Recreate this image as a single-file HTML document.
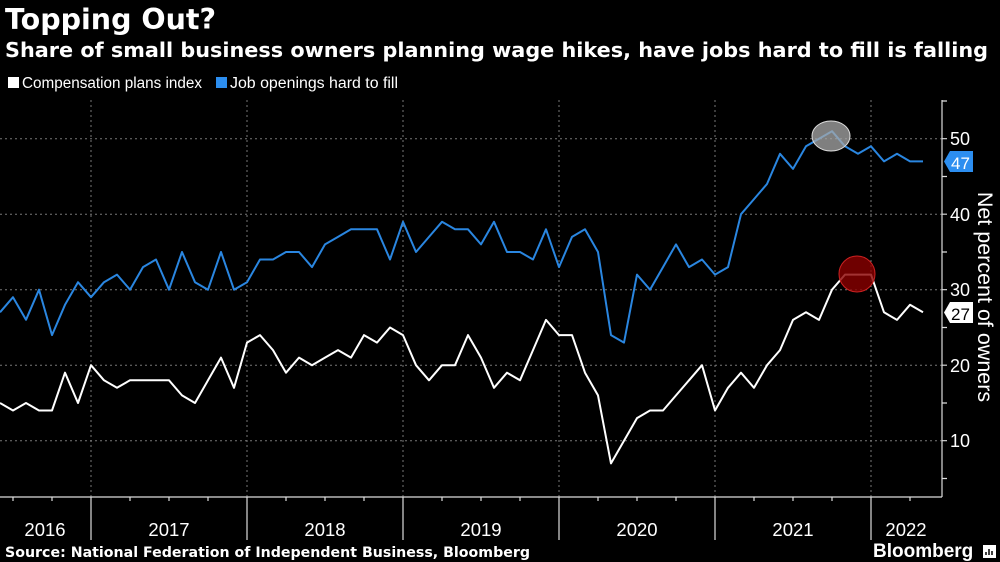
<!DOCTYPE html>
<html><head><meta charset="utf-8"><style>
html,body{margin:0;padding:0;background:#000;}
svg{display:block;font-family:"Liberation Sans","DejaVu Sans",sans-serif;}
</style></head><body>
<svg width="1000" height="562" viewBox="0 0 1000 562" xmlns="http://www.w3.org/2000/svg">
<rect width="1000" height="562" fill="#000"/>
<text x="5" y="29" fill="#fff" font-size="28.5" font-weight="bold" font-family="DejaVu Sans, sans-serif">Topping Out?</text>
<text x="5" y="57" fill="#fff" font-size="20" font-weight="bold" font-family="DejaVu Sans, sans-serif" textLength="983" lengthAdjust="spacingAndGlyphs">Share of small business owners planning wage hikes, have jobs hard to fill is falling</text>
<rect x="8" y="77" width="11" height="11" fill="#fff"/>
<text x="22" y="88" fill="#fff" font-size="15.5" textLength="180" lengthAdjust="spacingAndGlyphs">Compensation plans index</text>
<rect x="216" y="77" width="11" height="11" fill="#2c8ef0"/>
<text x="230" y="88" fill="#fff" font-size="15.5" textLength="168" lengthAdjust="spacingAndGlyphs">Job openings hard to fill</text>
<g stroke="#777" stroke-width="1" stroke-dasharray="2,3">
<line x1="0" y1="138.7" x2="942" y2="138.7"/><line x1="0" y1="214.2" x2="942" y2="214.2"/><line x1="0" y1="289.7" x2="942" y2="289.7"/><line x1="0" y1="365.2" x2="942" y2="365.2"/><line x1="0" y1="440.7" x2="942" y2="440.7"/>
<line x1="91" y1="100" x2="91" y2="497"/><line x1="247" y1="100" x2="247" y2="497"/><line x1="403" y1="100" x2="403" y2="497"/><line x1="559" y1="100" x2="559" y2="497"/><line x1="715" y1="100" x2="715" y2="497"/><line x1="871" y1="100" x2="871" y2="497"/>
</g>
<g stroke="#ddd" stroke-width="1.2">
<line x1="0" y1="497" x2="942" y2="497"/>
<line x1="942" y1="100" x2="942" y2="497"/>
<line x1="91" y1="497" x2="91" y2="540"/><line x1="247" y1="497" x2="247" y2="540"/><line x1="403" y1="497" x2="403" y2="540"/><line x1="559" y1="497" x2="559" y2="540"/><line x1="715" y1="497" x2="715" y2="540"/><line x1="871" y1="497" x2="871" y2="540"/>
<path d="M13 497v4M52 497v4M130 497v4M169 497v4M208 497v4M286 497v4M325 497v4M364 497v4M442 497v4M481 497v4M520 497v4M598 497v4M637 497v4M676 497v4M754 497v4M793 497v4M832 497v4M910 497v4"/>
<path d="M942 101h5M942 138.7h5M942 176.5h5M942 214.2h5M942 252h5M942 289.7h5M942 327.5h5M942 365.2h5M942 403h5M942 440.7h5M942 478.5h5"/>
</g>
<g fill="#fff" font-size="18">
<text x="950" y="145">50</text><text x="950" y="221">40</text><text x="950" y="296">30</text><text x="950" y="372">20</text><text x="950" y="447">10</text>
</g>
<g fill="#fff" font-size="18.5" text-anchor="middle">
<text x="45" y="536">2016</text><text x="169" y="536">2017</text><text x="325" y="536">2018</text><text x="481" y="536">2019</text><text x="637" y="536">2020</text><text x="793" y="536">2021</text><text x="906" y="536">2022</text>
</g>
<text transform="translate(978,297) rotate(90)" fill="#fff" font-size="21.5" text-anchor="middle">Net percent of owners</text>
<polyline fill="none" stroke="#2a86e0" stroke-width="2" stroke-linejoin="round" points="0,312.3 13,297.2 26,319.8 39,289.7 52,335.1 65,304.8 78,282.2 91,297.2 104,282.2 117,274.6 130,289.7 143,267.1 156,259.5 169,289.7 182,252 195,282.2 208,289.7 221,252 234,289.7 247,282.2 260,259.5 273,259.5 286,252 299,252 312,267.1 325,244.4 338,236.9 351,229.3 364,229.3 377,229.3 390,259.5 403,221.8 416,252 429,236.9 442,221.8 455,229.3 468,229.3 481,244.4 494,221.8 507,252 520,252 533,259.5 546,229.3 559,267.1 572,236.9 585,229.3 598,252 611,335.1 624,342.6 637,274.6 650,289.7 663,267.1 676,244.4 689,267.1 702,259.5 715,274.6 728,267.1 741,214.2 754,199.1 767,184 780,153.8 793,168.9 806,146.3 819,138.7 832,131.2 845,146.3 858,153.8 871,146.3 884,161.4 897,153.8 910,161.4 923,161.4"/>
<polyline fill="none" stroke="#fff" stroke-width="2" stroke-linejoin="round" points="0,403 13,410.5 26,403 39,410.5 52,410.5 65,372.7 78,403 91,365.2 104,380.3 117,387.8 130,380.3 143,380.3 156,380.3 169,380.3 182,395.4 195,403 208,380.3 221,357.6 234,387.8 247,342.6 260,335.1 273,350.1 286,372.7 299,357.6 312,365.2 325,357.6 338,350.1 351,357.6 364,335.1 377,342.6 390,327.5 403,335.1 416,365.2 429,380.3 442,365.2 455,365.2 468,335.1 481,357.6 494,387.8 507,372.7 520,380.3 533,350.1 546,319.9 559,335.1 572,335.1 585,372.7 598,395.4 611,463.4 624,440.7 637,418.1 650,410.5 663,410.5 676,395.4 689,380.3 702,365.2 715,410.5 728,387.8 741,372.7 754,387.8 767,365.2 780,350.1 793,319.9 806,312.3 819,319.9 832,289.7 845,274.6 858,274.6 871,274.6 884,312.3 897,319.9 910,304.8 923,312.3"/>
<ellipse cx="831" cy="136" rx="19" ry="15" fill="#aaa" fill-opacity="0.75" stroke="#ddd" stroke-width="1"/>
<circle cx="857" cy="274" r="18" fill="#8b0000" fill-opacity="0.8" stroke="#c22" stroke-width="1"/>
<path d="M944 161.5 L950 151 H973 V172 H950 Z" fill="#2c8ef0"/>
<text x="951" y="169" fill="#fff" font-size="17">47</text>
<path d="M944 312.5 L950 302 H973 V323 H950 Z" fill="#fff"/>
<text x="951" y="320" fill="#000" font-size="17">27</text>
<text x="5" y="557" fill="#fff" font-size="14" font-weight="bold" font-family="DejaVu Sans, sans-serif" textLength="525" lengthAdjust="spacingAndGlyphs">Source: National Federation of Independent Business, Bloomberg</text>
<text x="873" y="557" fill="#fff" font-size="19" font-weight="bold">Bloomberg</text>
<rect x="983" y="545" width="13" height="13" fill="#fff"/>
<path d="M986 555v-3M989 555v-6M992 555v-4" stroke="#000" stroke-width="1.5"/>
</svg>
</body></html>
